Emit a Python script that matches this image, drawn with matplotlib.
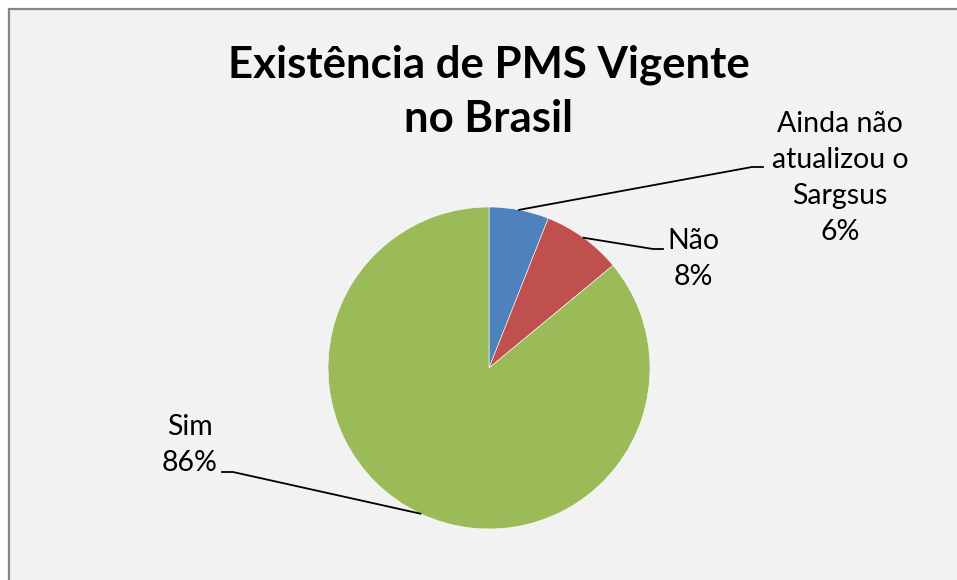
import numpy as np
import matplotlib.pyplot as plt
from matplotlib.patches import Rectangle

# Dados do gráfico
categorias = ["Ainda não\natualizou o\nSargsus", "Não", "Sim"]
valores = [6, 8, 86]
cores = ["#4F81BD", "#C0504D", "#9BBB59"]
titulo = "Existência de PMS Vigente\nno Brasil"

plt.rcParams['font.family'] = ['Lato', 'DejaVu Sans']

W, H = 957, 580
fig = plt.figure(figsize=(W / 100, H / 100), dpi=100)
fig.patch.set_facecolor("white")

# Fundo da área do gráfico (em pixels)
bg = fig.add_axes([0, 0, 1, 1])
bg.set_xlim(0, W)
bg.set_ylim(H, 0)
bg.axis("off")
bg.add_patch(Rectangle((9, 9), W + 20, H + 20, facecolor="#F2F2F2",
                       edgecolor="#868686", linewidth=1.6))

# Pizza: centro (489, 368), raio 161 px
cx, cy, r = 489, 368, 161
ax = fig.add_axes([(cx - r) / W, (H - cy - r) / H, 2 * r / W, 2 * r / H])
wedges, _ = ax.pie(valores, colors=cores, startangle=90, counterclock=False,
                   wedgeprops=dict(edgecolor="white", linewidth=0.4))
ax.set_xlim(-1, 1)
ax.set_ylim(-1, 1)
ax.set_aspect("equal")


def px(x, y):
    # converte pixels da figura para unidades do raio
    return (x - cx) / r, (cy - y) / r


# posição dos rótulos e cotovelos das linhas guia
rotulos_pos = [(840, 178), (693, 259), (190, 445)]
cotovelos = [((752, 167), (763, 167)), ((653, 249), (663, 249)), ((233, 472), (222, 472))]

for w, cat, v, pos, (c1, c2) in zip(wedges, categorias, valores, rotulos_pos, cotovelos):
    ang = np.deg2rad((w.theta1 + w.theta2) / 2)
    p0 = (np.cos(ang), np.sin(ang))
    p1 = px(*c1)
    p2 = px(*c2)
    ax.plot([p0[0], p1[0], p2[0]], [p0[1], p1[1], p2[1]], color="black",
            linewidth=1.3, clip_on=False)
    tx, ty = px(*pos)
    ax.text(tx, ty, f"{cat}\n{v}%", ha="center", va="center", fontsize=20.5,
            linespacing=1.48, clip_on=False)

bg.text(489, 92, titulo, ha="center", va="center", fontsize=31.5,
        fontweight="bold", linespacing=1.42)

fig.savefig("out.png", dpi=100)
